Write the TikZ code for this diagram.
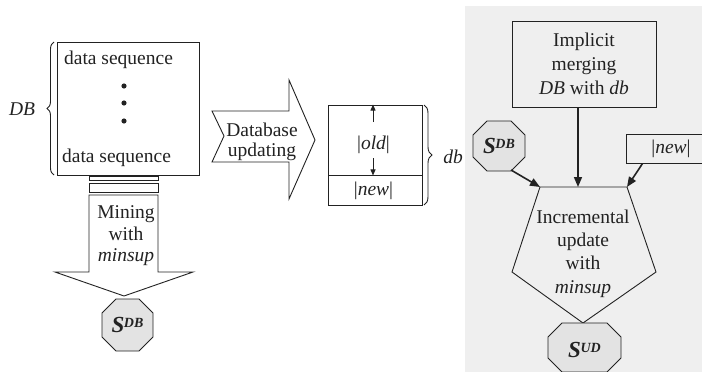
\documentclass[tikz,border=0pt]{standalone}
\usepackage{fontspec}
\setmainfont{Liberation Serif}
\usetikzlibrary{arrows.meta,calc,decorations.pathreplacing}

\definecolor{ink}{HTML}{222222}
\definecolor{panelbg}{HTML}{EFEFEF}
\definecolor{octfill}{HTML}{E3E3E3}

% octagon centred at (#1,#2), half width #3, half height #4, corner cut #5
\newcommand\octat[5]{%
  \path[octshape] ({#1-#3+#5},{#2-#4}) -- ({#1+#3-#5},{#2-#4}) -- ({#1+#3},{#2-#4+#5})
    -- ({#1+#3},{#2+#4-#5}) -- ({#1+#3-#5},{#2+#4}) -- ({#1-#3+#5},{#2+#4})
    -- ({#1-#3},{#2+#4-#5}) -- ({#1-#3},{#2-#4+#5}) -- cycle;}
% pattern set name S with a superscript
\newcommand\setname[1]{{\fontsize{23}{23}\selectfont\bfseries\itshape S\kern-0.5pt\raisebox{5pt}{\fontsize{14}{14}\selectfont #1}}}

\tikzset{
  shapeline/.style={draw=ink, line width=0.9pt},
  txt/.style={text=ink, align=center, inner sep=0pt, font=\fontsize{19.5}{23}\selectfont},
  octshape/.style={draw=ink, fill=octfill, line width=0.9pt},
  octlabel/.style={text=ink, inner sep=0pt},
  flowarrow/.style={draw=ink, line width=1.6pt, -{Triangle[length=10pt,width=8pt]}},
  gaugearrow/.style={draw=ink, line width=0.9pt, -{Triangle[length=6pt,width=5pt]}},
  bracestyle/.style={draw=ink, line width=0.9pt, decorate},
}

\begin{document}
\begin{tikzpicture}[x=1pt,y=-1pt,line join=miter]
\useasboundingbox (0,0) rectangle (702,372);
\clip (0,0) rectangle (702,372);

% shaded panel on the right
\fill[panelbg] (465,6) rectangle (702,372);

% ---- original database DB ----
\node[shapeline, minimum width=142, minimum height=133, inner sep=0pt] (dbbox) at (128,108.5) {};
\node[txt] (seqtop) at (118.5,60) {data sequence};
\node[txt] (seqbot) at (116.5,158) {data sequence};
\foreach \yy in {86,103,121} \fill[ink] (124,\yy) circle (2.6);
\draw[bracestyle, decoration={brace,amplitude=7}] (54,175) -- (54,42);
\node[txt] (dblbl) at (22,109) {\textit{DB}};

% stacked records under DB
\draw[shapeline] (89,176) rectangle (158,180);
\draw[shapeline] (89,183) rectangle (158,192);

% mining arrow
\draw[shapeline, fill=white] (89,195) -- (158,195) -- (158,272) -- (193,272)
  -- (124,296) -- (55,272) -- (89,272) -- cycle;
\node[txt, font=\fontsize{19.5}{21.5}\selectfont] (mining) at (126,236) {Mining\\with\\\textit{minsup}};

% mined patterns S^DB
\octat{127.5}{325}{25.5}{26}{14}
\node[octlabel, minimum width=51, minimum height=52] (sdbl) at (127.5,325) {\setname{DB}};

% database updating arrow
\draw[shapeline, fill=white] (212,111) -- (289,111) -- (289,80) -- (315,140)
  -- (289,199) -- (289,162) -- (212,162) -- (224,136) -- cycle;
\node[txt, font=\fontsize{19.5}{20}\selectfont] (dbupd) at (262,142) {Database\\updating};

% updated database db
\node[shapeline, minimum width=94, minimum height=70, inner sep=0pt] (oldpart) at (375,140) {};
\node[shapeline, minimum width=94, minimum height=30, inner sep=0pt] (newpart) at (375,190) {};
\node[txt] (oldtxt) at (373.5,145) {|\textit{old}|};
\node[txt] (newtxt) at (373.5,191) {|\textit{new}|};
\draw[gaugearrow] ($(oldpart.center)+(-2,-18)$) -- ($(oldpart.north)+(-2,0)$);
\draw[gaugearrow] ($(oldpart.center)+(-2,18)$) -- ($(oldpart.south)+(-2,0)$);
\draw[bracestyle, decoration={brace,amplitude=8}] (424,105) -- (424,205);
\node[txt] (dblbl2) at (453,157) {\textit{db}};

% ---- incremental part ----
\node[shapeline, txt, minimum width=144, minimum height=86, font=\fontsize{19.5}{24}\selectfont]
  (implicit) at (584,64) {Implicit\\merging\\\textit{DB} with \textit{db}};

\octat{499}{146}{26}{25}{14}
\node[octlabel, minimum width=52, minimum height=50] (sdbr) at (499,146) {\setname{DB}};

\node[shapeline, minimum width=90, minimum height=29, inner sep=0pt] (newbox) at (671,148.5) {};
\node[txt] (newbtxt) at (671,149) {|\textit{new}|};

% incremental update pentagon
\coordinate (pA) at (540,187);
\coordinate (pM) at (578,187);
\coordinate (pB) at (627,187);
\coordinate (pC) at (656,272);
\coordinate (pD) at (583,323);
\coordinate (pE) at (512,272);
\draw[shapeline] (pA) -- (pB) -- (pC) -- (pD) -- (pE) -- cycle;
\node[txt, font=\fontsize{19.5}{23.3}\selectfont] (incr) at (583,253.5)
  {Incremental\\update\\with\\\textit{minsup}};

% updated patterns S^UD
\octat{584.5}{347.5}{36.5}{24.5}{14}
\node[octlabel, minimum width=73, minimum height=49] (sud) at (584.5,350) {\setname{UD}};

% inputs to the update
\draw[flowarrow] ($(implicit.south)+(-6,0)$) -- (pM);
\draw[flowarrow] ($(sdbr)+(12,24)$) -- (pA);
\draw[flowarrow] ($(newbox.south west)+(17,0)$) -- (pB);
\end{tikzpicture}
\end{document}
